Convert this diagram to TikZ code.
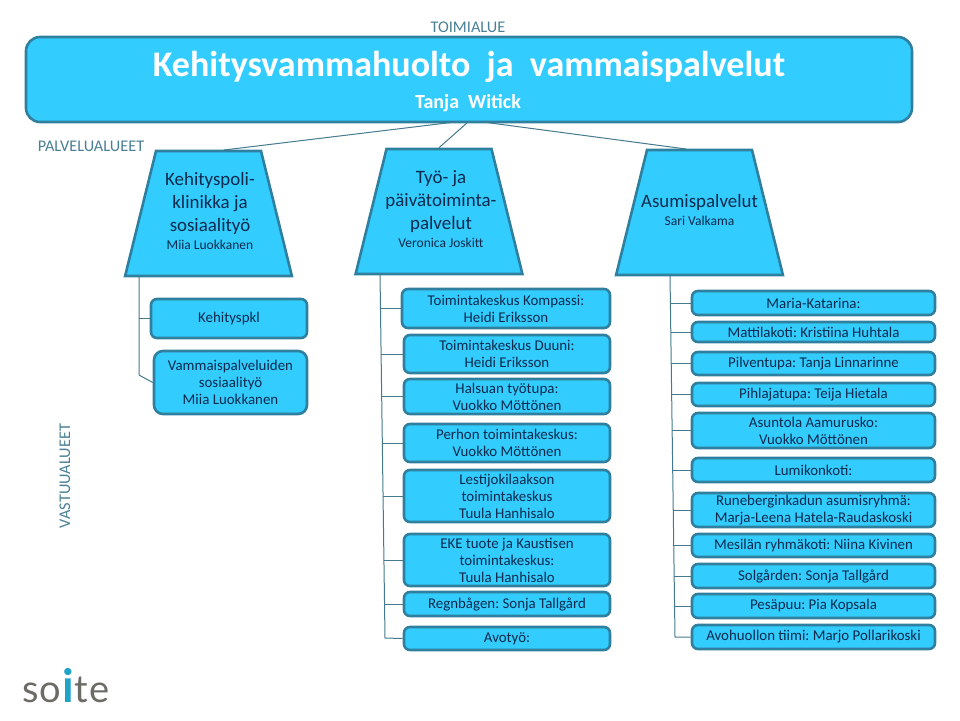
\documentclass[tikz,border=0pt]{standalone}
\usepackage{xcolor}
\usepackage{fontspec}
\setmainfont{Carlito}
\newfontfamily\logofont{Lato}
\frenchspacing
\usepackage{tikz}
\usetikzlibrary{shapes.geometric}
\definecolor{skyfill}{HTML}{33CCFF}
\definecolor{tealrim}{HTML}{2F7F9E}
\definecolor{inknavy}{HTML}{0C2A4C}
\definecolor{captxt}{HTML}{4A7F96}
\definecolor{wire}{HTML}{44798E}
\definecolor{logogrey}{HTML}{6E6A66}
\definecolor{logoteal}{HTML}{1FA3C6}
\newcommand{\who}{\fontsize{13.5}{15}\selectfont}
\tikzset{
  unit/.style={rectangle, rounded corners=6pt, draw=tealrim, fill=skyfill,
               line width=2.6pt, align=center, inner sep=0pt, text=inknavy,
               font=\fontsize{14.9}{17}\selectfont},
  area/.style={trapezium, trapezium stretches=true, trapezium angle=73.6,
               draw=tealrim, fill=skyfill, line width=2.6pt, inner sep=0pt,
               text width=100pt, text height=50pt, text depth=50pt,
               minimum width=167pt, minimum height=125pt},
  areatxt/.style={align=center, text=inknavy, inner sep=0pt,
                  font=\fontsize{18.9}{23}\selectfont},
  captn/.style={text=captxt, inner sep=0pt, font=\fontsize{16.3}{18}\selectfont},
  wr/.style={draw=wire, line width=1pt},
}
\begin{document}
\begin{tikzpicture}[x=1pt,y=-1pt]
  \useasboundingbox (0,0) rectangle (960,720);

  \node[captn] (toimi) at (468,27) {TOIMIALUE};
  \node[captn] (palvelu) at (91,146) {PALVELUALUEET};
  \node[captn,rotate=90] (vastuu) at (65,476) {VASTUUALUEET};

  \node[unit, rounded corners=14pt, minimum width=886pt, minimum height=85pt] (head) at (469,79.5) {};
  \node[text=white, inner sep=0pt, font=\fontsize{36}{40}\bfseries\selectfont] (headtxt) at (469,67) {Kehitysvammahuolto~ ja~ vammaispalvelut};
  \node[text=white, inner sep=0pt, font=\fontsize{20}{22}\bfseries\selectfont] (headwho) at (468,103) {Tanja~ Witick};

  \node[area] (ta) at (208.5,213.5) {};
  \node[area] (tb) at (439,211.5) {};
  \node[area] (tc) at (699.5,212.5) {};
  \node[areatxt] (tatxt) at (210,211) {Kehityspoli-\\klinikka ja\\sosiaalityö\\[-5pt]{\who Miia Luokkanen}};
  \node[areatxt] (tbtxt) at (441,209) {Työ- ja\\päivätoiminta-\\palvelut\\[-5pt]{\who Veronica Joskitt}};
  \node[areatxt] (tctxt) at (699.5,210) {Asumispalvelut\\[-5pt]{\who Sari Valkama}};

  % header down to the three areas
  \coordinate (ha) at (455,122);
  \coordinate (hb) at (468,122);
  \coordinate (hc) at (483,122);
  \coordinate (ea) at (224,150);
  \coordinate (ec) at (686,149);
  \draw[wr] (ha) -- (ea);
  \draw[wr] (hb) -- (tb.north);
  \draw[wr] (hc) -- (ec);

  % first column
  \node[unit, minimum width=156pt, minimum height=39pt] (k1) at (229,318.5) {Kehityspkl};
  \node[unit, minimum width=153pt, minimum height=63pt, rounded corners=9pt] (k2) at (230.5,382.5) {Vammaispalveluiden\\sosiaalityö\\Miia Luokkanen};

  % second column
  \node[unit, minimum width=208pt, minimum height=39pt] (b1) at (506,308.5) {Toimintakeskus Kompassi:\\Heidi Eriksson};
  \node[unit, minimum width=206pt, minimum height=38pt] (b2) at (507,354) {Toimintakeskus Duuni:\\Heidi Eriksson};
  \node[unit, minimum width=206pt, minimum height=35pt] (b3) at (507,396.5) {Halsuan työtupa:\\Vuokko Möttönen};
  \node[unit, minimum width=206pt, minimum height=38pt] (b4) at (507,443) {Perhon toimintakeskus:\\Vuokko Möttönen};
  \node[unit, minimum width=206pt, minimum height=52pt] (b5) at (507,496) {Lestijokilaakson\\toimintakeskus\\Tuula Hanhisalo};
  \node[unit, minimum width=206pt, minimum height=52pt] (b6) at (507,560) {EKE tuote ja Kaustisen\\toimintakeskus:\\Tuula Hanhisalo};
  \node[unit, minimum width=206pt, minimum height=24pt] (b7) at (507,604) {Regnbågen: Sonja Tallgård};
  \node[unit, minimum width=206pt, minimum height=23pt] (b8) at (507,638.5) {Avotyö:};

  % third column
  \node[unit, minimum width=243pt, minimum height=24pt] (c1) at (813.5,303) {Maria-Katarina:};
  \node[unit, minimum width=243pt, minimum height=20pt] (c2) at (813.5,332) {Mattilakoti: Kristiina Huhtala};
  \node[unit, minimum width=243pt, minimum height=23pt] (c3) at (813.5,363.5) {Pilventupa: Tanja Linnarinne};
  \node[unit, minimum width=243pt, minimum height=23pt] (c4) at (813.5,394.5) {Pihlajatupa: Teija Hietala};
  \node[unit, minimum width=243pt, minimum height=35pt] (c5) at (813.5,430.5) {Asuntola Aamurusko:\\Vuokko Möttönen};
  \node[unit, minimum width=243pt, minimum height=24pt] (c6) at (813.5,470) {Lumikonkoti:};
  \node[unit, minimum width=243pt, minimum height=34pt] (c7) at (813.5,510) {Runeberginkadun asumisryhmä:\\Marja-Leena Hatela-Raudaskoski};
  \node[unit, minimum width=243pt, minimum height=23pt] (c8) at (813.5,545.5) {Mesilän ryhmäkoti: Niina Kivinen};
  \node[unit, minimum width=243pt, minimum height=24pt] (c9) at (813.5,576) {Solgården: Sonja Tallgård};
  \node[unit, minimum width=243pt, minimum height=24pt] (c10) at (813.5,606) {Pesäpuu: Pia Kopsala};
  \node[unit, minimum width=243pt, minimum height=24pt] (c11) at (813.5,637) {Avohuollon tiimi: Marjo Pollarikoski};

  % stems under the areas
  \coordinate (sa) at (139,276);
  \coordinate (sae) at (139,375);
  \coordinate (sb) at (380,274);
  \coordinate (sbe) at (385,638);
  \coordinate (sc) at (670,275);
  \coordinate (sce) at (675,637);
  \draw[wr] (sa) -- (sae) -- (k2.west);
  \draw[wr] (sa |- k1.west) -- (k1.west);
  \draw[wr] (sb) -- (sbe) -- (b8.west);
  \draw[wr] (380,308.5) -- (b1.west);
  \draw[wr] (380.7,354) -- (b2.west);
  \draw[wr] (381,396.5) -- (b3.west);
  \draw[wr] (381.5,443) -- (b4.west);
  \draw[wr] (382.5,496) -- (b5.west);
  \draw[wr] (383.5,560) -- (b6.west);
  \draw[wr] (384.5,604) -- (b7.west);
  \draw[wr] (sc) -- (sce) -- (c11.west);
  \draw[wr] (670.4,303) -- (c1.west);
  \draw[wr] (670.8,332) -- (c2.west);
  \draw[wr] (671.2,363.5) -- (c3.west);
  \draw[wr] (671.7,394.5) -- (c4.west);
  \draw[wr] (672.1,430.5) -- (c5.west);
  \draw[wr] (672.7,470) -- (c6.west);
  \draw[wr] (673.3,510) -- (c7.west);
  \draw[wr] (673.8,545.5) -- (c8.west);
  \draw[wr] (674.2,576) -- (c9.west);
  \draw[wr] (674.6,606) -- (c10.west);

  \node[inner sep=0pt, text=logogrey, font=\logofont\fontsize{38}{42}\selectfont] (logo) at (66,686)
    {s\kern1pt o\kern1pt\textcolor{logoteal}{\bfseries\fontsize{46}{46}\selectfont i}\kern1pt t\kern1pt e};
\end{tikzpicture}
\end{document}
